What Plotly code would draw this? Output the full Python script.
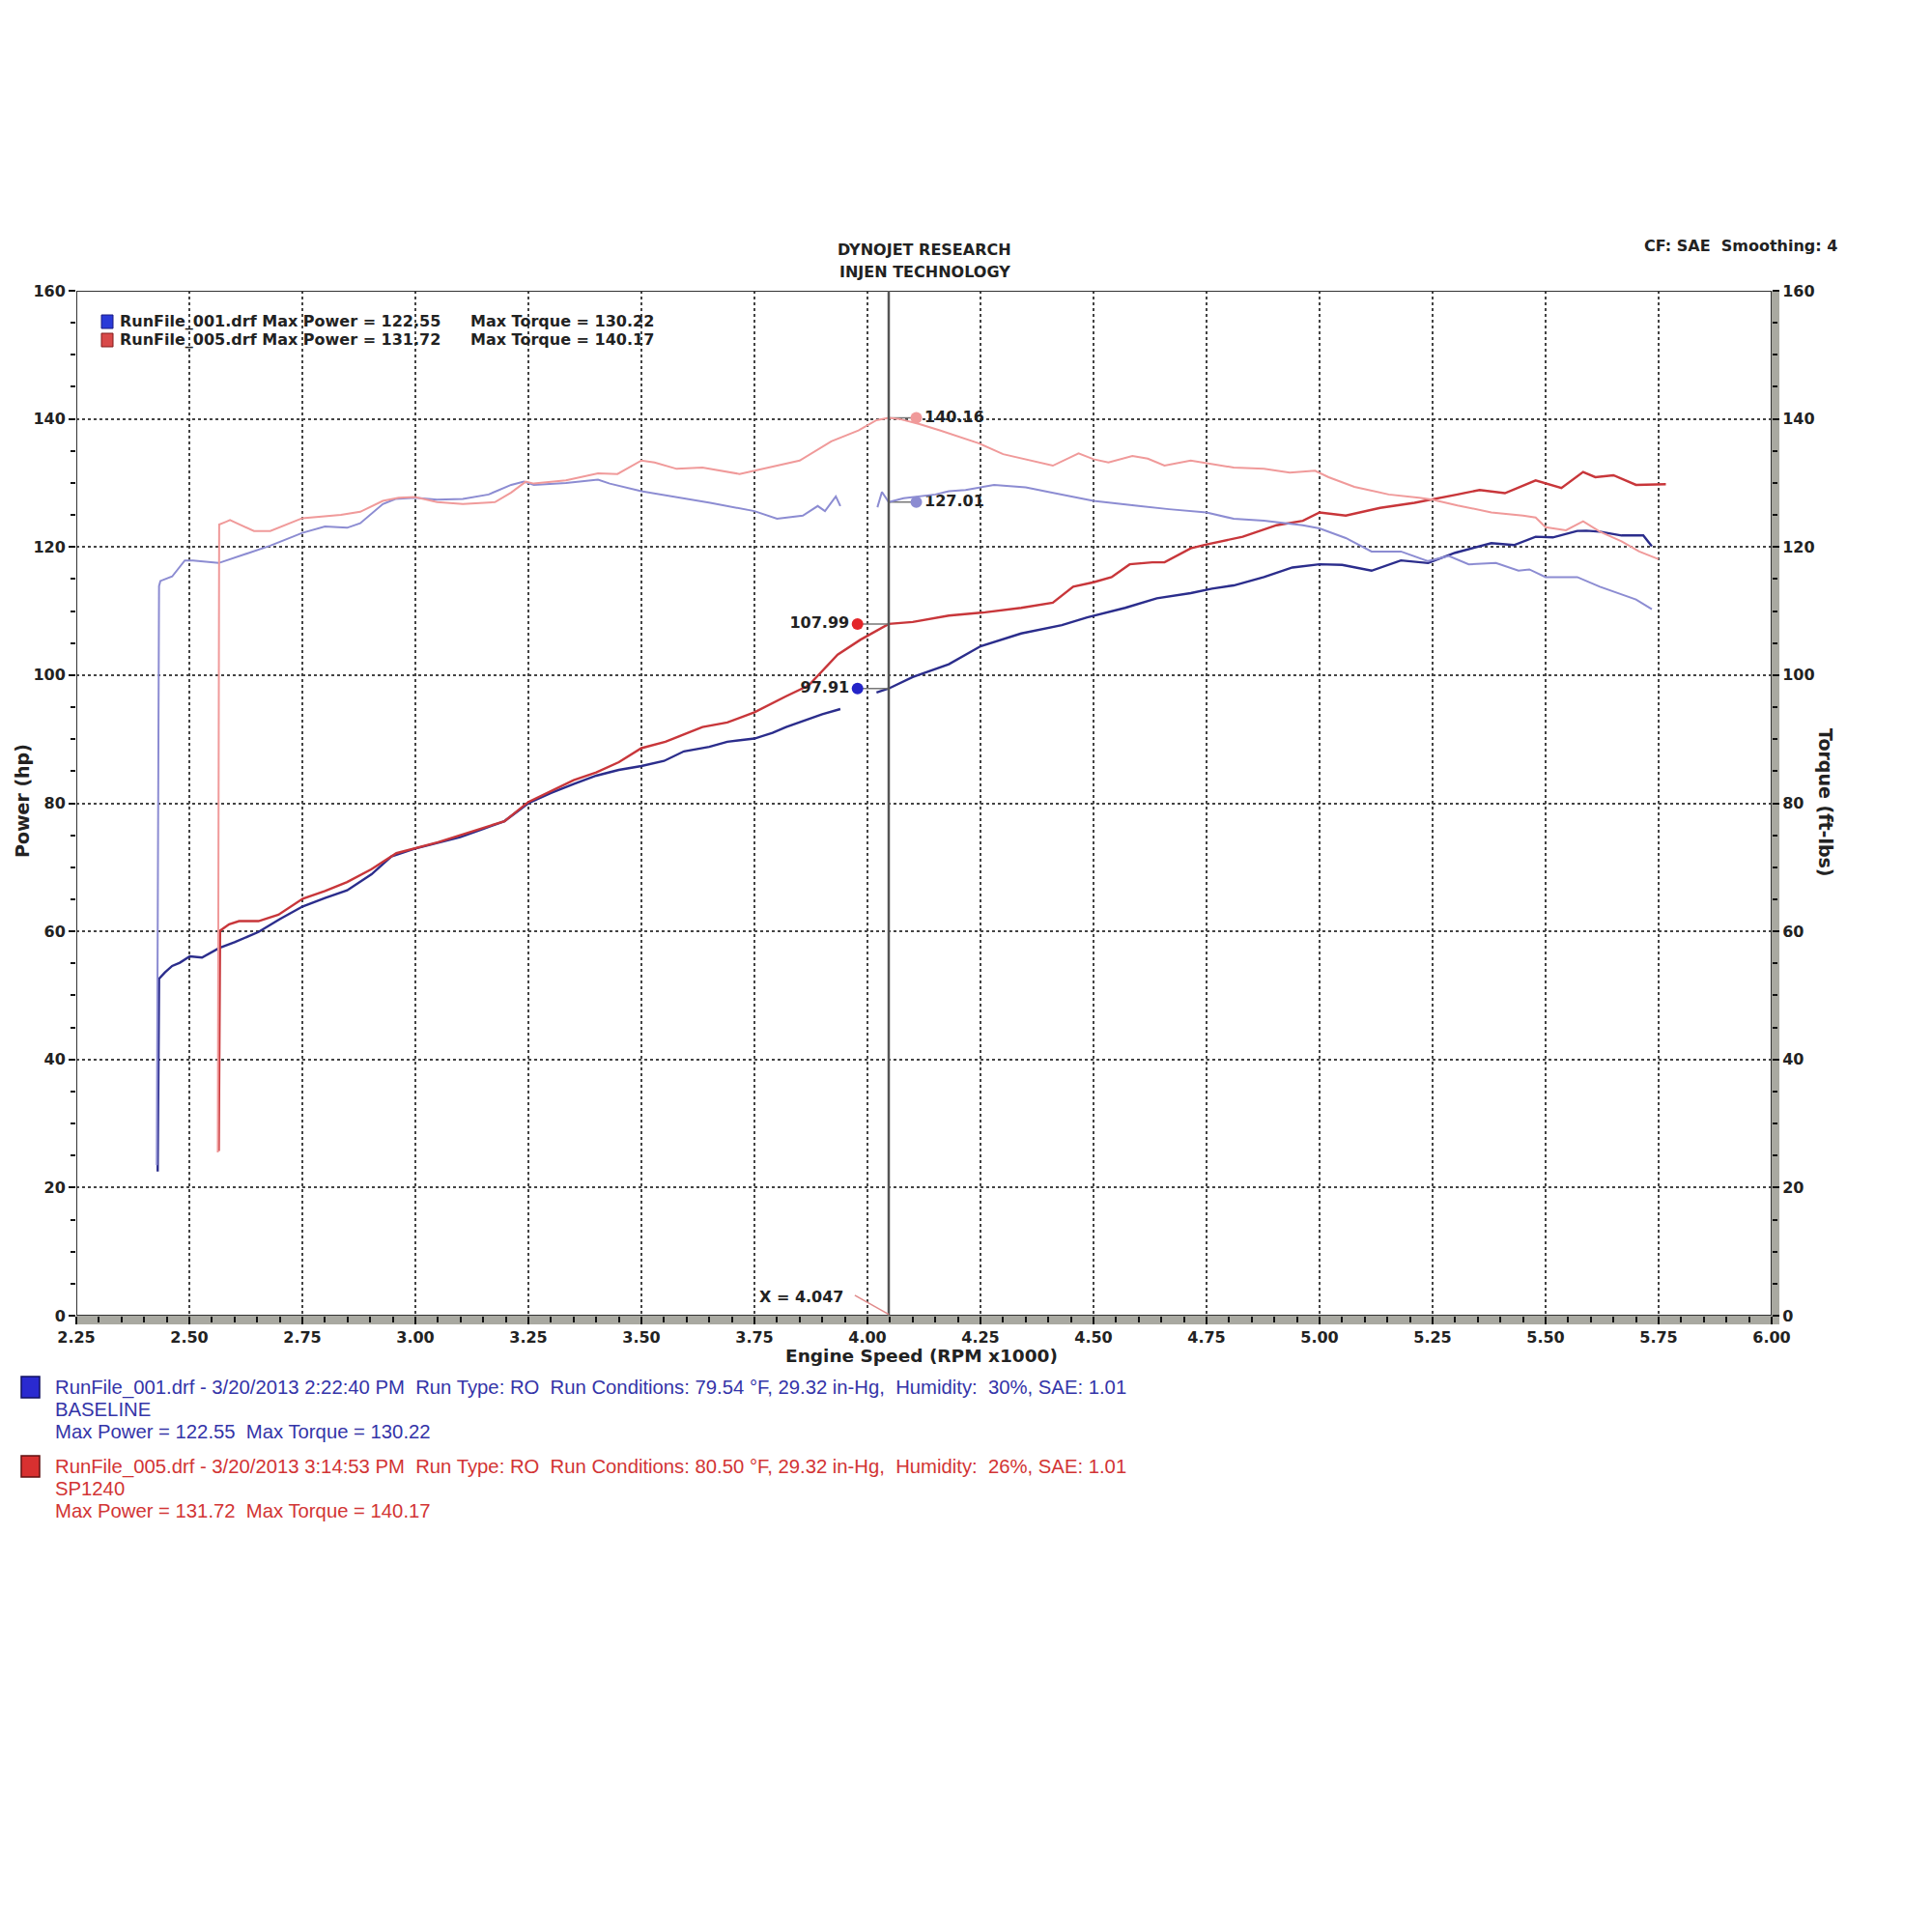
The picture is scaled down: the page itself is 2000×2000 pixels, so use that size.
import plotly.graph_objects as go

# ---- data (rpm x1000, hp / ft-lbs) ----
blue_power_rpm = [2.430, 2.433, 2.446, 2.462, 2.479, 2.501, 2.528, 2.545, 2.566, 2.600, 2.653, 2.700, 2.751,
                  2.800, 2.849, 2.903, 2.947, 2.998, 3.050, 3.099, 3.150, 3.197, 3.250, 3.300, 3.350, 3.400,
                  3.450, 3.500, 3.550, 3.594, 3.650, 3.690, 3.750, 3.790, 3.820, 3.870, 3.900, 3.940, None,
                  4.020, 4.047, 4.100, 4.180, 4.250, 4.340, 4.430, 4.486, 4.570, 4.640, 4.715, 4.762, 4.810,
                  4.877, 4.940, 5.000, 5.050, 5.115, 5.180, 5.240, 5.300, 5.380, 5.430, 5.478, 5.516, 5.570,
                  5.590, 5.620, 5.668, 5.716, 5.735]
blue_power_hp = [22.5, 52.6, 53.6, 54.6, 55.1, 56.1, 55.9, 56.6, 57.4, 58.3, 59.9, 61.9, 63.9,
                 65.2, 66.4, 68.9, 71.7, 72.9, 73.8, 74.7, 76.0, 77.2, 80.0, 81.6, 83.0, 84.3,
                 85.2, 85.8, 86.6, 88.1, 88.8, 89.6, 90.1, 91.0, 91.9, 93.1, 93.9, 94.7, None,
                 97.3, 97.91, 99.7, 101.7, 104.5, 106.5, 107.8, 109.0, 110.5, 112.0, 112.8, 113.5, 114.0,
                 115.3, 116.8, 117.3, 117.2, 116.3, 117.9, 117.5, 119.1, 120.6, 120.3, 121.6, 121.5, 122.5,
                 122.55, 122.4, 121.8, 121.8, 120.1]

red_power_rpm = [2.565, 2.568, 2.588, 2.610, 2.653, 2.697, 2.751, 2.800, 2.849, 2.903, 2.958, 2.998, 3.050,
                 3.099, 3.150, 3.197, 3.250, 3.300, 3.350, 3.400, 3.450, 3.500, 3.553, 3.600, 3.635, 3.690,
                 3.750, 3.820, 3.870, 3.934, 3.984, 4.047, 4.100, 4.180, 4.260, 4.340, 4.410, 4.455, 4.500,
                 4.540, 4.580, 4.630, 4.657, 4.715, 4.750, 4.830, 4.905, 4.963, 5.000, 5.058, 5.134, 5.210,
                 5.250, 5.305, 5.354, 5.410, 5.478, 5.535, 5.583, 5.610, 5.650, 5.700, 5.766]
red_power_hp = [25.7, 60.1, 61.1, 61.6, 61.6, 62.6, 65.1, 66.3, 67.7, 69.7, 72.2, 72.9, 73.9,
                75.0, 76.2, 77.2, 80.2, 81.9, 83.6, 84.8, 86.4, 88.6, 89.6, 90.9, 91.9, 92.6,
                94.2, 96.7, 98.4, 103.2, 105.5, 107.99, 108.3, 109.3, 109.8, 110.5, 111.3, 113.8, 114.5,
                115.3, 117.3, 117.6, 117.6, 119.8, 120.4, 121.6, 123.4, 124.1, 125.4, 124.9, 126.1, 126.9,
                127.4, 128.2, 128.9, 128.4, 130.4, 129.2, 131.72, 130.9, 131.2, 129.7, 129.8]

blue_torque_rpm = [2.428, 2.433, 2.436, 2.462, 2.490, 2.508, 2.565, 2.622, 2.679, 2.750, 2.800, 2.849, 2.878,
                   2.928, 2.956, 2.999, 3.048, 3.105, 3.162, 3.212, 3.240, 3.262, 3.333, 3.404, 3.430, 3.500,
                   3.570, 3.652, 3.750, 3.800, 3.857, 3.890, 3.906, 3.930, 3.940, None,
                   4.022, 4.032, 4.047, 4.080, 4.150, 4.180, 4.217, 4.280, 4.350, 4.430, 4.500, 4.600, 4.667,
                   4.750, 4.810, 4.877, 4.963, 5.000, 5.058, 5.115, 5.180, 5.240, 5.286, 5.330, 5.390, 5.440,
                   5.464, 5.500, 5.570, 5.620, 5.670, 5.700, 5.735]
blue_torque_ftlb = [23.5, 113.9, 114.7, 115.4, 117.9, 117.9, 117.5, 118.9, 120.2, 122.2, 123.2, 123.0, 123.7,
                    126.7, 127.5, 127.7, 127.4, 127.5, 128.2, 129.7, 130.22, 129.7, 130.0, 130.5, 129.9, 128.7,
                    127.9, 126.9, 125.6, 124.4, 124.9, 126.4, 125.6, 127.9, 126.4, None,
                    126.2, 128.6, 127.01, 127.6, 128.2, 128.7, 128.9, 129.7, 129.3, 128.2, 127.2, 126.4, 125.9,
                    125.4, 124.4, 124.1, 123.4, 122.9, 121.4, 119.3, 119.3, 117.8, 118.6, 117.3, 117.5, 116.3,
                    116.5, 115.3, 115.3, 113.8, 112.5, 111.8, 110.3]

red_torque_rpm = [2.563, 2.566, 2.580, 2.590, 2.605, 2.643, 2.679, 2.721, 2.750, 2.835, 2.878, 2.928, 2.963,
                  2.999, 3.048, 3.105, 3.176, 3.212, 3.244, 3.262, 3.333, 3.404, 3.447, 3.500, 3.529, 3.578,
                  3.635, 3.717, 3.750, 3.800, 3.850, 3.920, 3.980, 4.020, 4.047, 4.070, 4.115, 4.160, 4.246,
                  4.300, 4.410, 4.467, 4.500, 4.533, 4.586, 4.620, 4.657, 4.715, 4.750, 4.810, 4.877, 4.934,
                  4.990, 5.020, 5.077, 5.153, 5.220, 5.250, 5.305, 5.380, 5.450, 5.478, 5.500, 5.545, 5.583,
                  5.620, 5.668, 5.707, 5.750]
red_torque_ftlb = [25.5, 123.5, 123.9, 124.2, 123.7, 122.5, 122.5, 123.7, 124.5, 125.0, 125.5, 127.2, 127.7,
                   127.8, 127.0, 126.7, 127.0, 128.5, 130.2, 129.9, 130.4, 131.5, 131.4, 133.5, 133.2, 132.2,
                   132.4, 131.4, 131.9, 132.7, 133.5, 136.5, 138.2, 139.8, 140.16, 140.0, 139.2, 138.2, 136.2,
                   134.5, 132.7, 134.6, 133.7, 133.2, 134.2, 133.8, 132.7, 133.5, 133.1, 132.4, 132.2, 131.6,
                   131.9, 130.9, 129.4, 128.2, 127.7, 127.4, 126.5, 125.4, 124.9, 124.6, 123.1, 122.6, 124.0,
                   122.4, 120.9, 119.3, 118.1]

cursor_rpm = 4.047
readout_values = [140.16, 127.01, 107.99, 97.91]
readout_rpm = [4.108, 4.108, 3.978, 3.978]

x_ticks = [2.25, 2.50, 2.75, 3.00, 3.25, 3.50, 3.75, 4.00, 4.25, 4.50, 4.75, 5.00, 5.25, 5.50, 5.75, 6.00]
y_ticks = [0, 20, 40, 60, 80, 100, 120, 140, 160]

run_files = ["RunFile_001.drf", "RunFile_005.drf"]
run_dates = ["3/20/2013 2:22:40 PM", "3/20/2013 3:14:53 PM"]
run_temps = ["79.54", "80.50"]
run_humidity = ["30%", "26%"]
run_notes = ["BASELINE", "SP1240"]
max_power = ["122.55", "131.72"]
max_torque = ["130.22", "140.17"]

BLUE_P = "#2b2d8c"
RED_P = "#c8363a"
BLUE_T = "#8c8cd2"
RED_T = "#f09a9a"
BOLD = "DejaVu Sans"
OFF = 8  # page body margin


def px(x):
    return (x - OFF) / 2000


def py(y):
    return 1 - (y - OFF) / 2000


fig = go.Figure()
fig.add_trace(go.Scatter(x=blue_torque_rpm, y=blue_torque_ftlb, mode="lines", yaxis="y2",
                         line=dict(color=BLUE_T, width=2), connectgaps=False))
fig.add_trace(go.Scatter(x=red_torque_rpm, y=red_torque_ftlb, mode="lines", yaxis="y2",
                         line=dict(color=RED_T, width=2)))
fig.add_trace(go.Scatter(x=blue_power_rpm, y=blue_power_hp, mode="lines",
                         line=dict(color=BLUE_P, width=2.4), connectgaps=False))
fig.add_trace(go.Scatter(x=red_power_rpm, y=red_power_hp, mode="lines",
                         line=dict(color=RED_P, width=2.4)))

# cursor readouts
marker_cols = [RED_T, BLUE_T, "#e3262a", "#2424c8"]
positions = ["middle right", "middle right", "middle left", "middle left"]
for v, r, c, p in zip(readout_values, readout_rpm, marker_cols, positions):
    fig.add_trace(go.Scatter(x=[cursor_rpm, r], y=[v, v], mode="lines",
                             line=dict(color="#777", width=1.5)))
    fig.add_trace(go.Scatter(x=[r], y=[v], mode="markers+text", text=[f"{v:.2f}"],
                             textposition=p, marker=dict(color=c, size=12),
                             textfont=dict(family=BOLD, size=16, color="#222", weight="bold")))

tickfont = dict(family=BOLD, size=16, color="#222", weight="bold")
fig.update_layout(
    width=2000, height=2000, margin=dict(l=0, r=0, t=0, b=0),
    paper_bgcolor="white", plot_bgcolor="white", showlegend=False,
    xaxis=dict(domain=[px(79), px(1834)], range=[2.25, 6.0], tickmode="array", tickvals=x_ticks,
               ticktext=[f"{v:.2f}" for v in x_ticks], tickfont=tickfont, automargin=False,
               showgrid=True, gridcolor="#444", griddash="dot", gridwidth=1.5,
               ticks="outside", ticklen=8, tickcolor="#111", tickwidth=1.5, zeroline=False,
               minor=dict(tickmode="linear", tick0=2.25, dtick=0.05, ticks="outside", ticklen=6,
                          tickcolor="#111", showgrid=False)),
    yaxis=dict(domain=[py(1362), py(301)], range=[0, 160], tickvals=y_ticks, tickfont=tickfont,
               automargin=False,
               showgrid=True, gridcolor="#444", griddash="dot", gridwidth=1.5,
               ticks="outside", ticklen=7, tickcolor="#111", tickwidth=1.5, zeroline=False,
               minor=dict(dtick=5, ticks="outside", ticklen=5, tickcolor="#111", showgrid=False)),
    yaxis2=dict(overlaying="y", side="right", range=[0, 160], tickvals=y_ticks, tickfont=tickfont,
                automargin=False,
                showgrid=False, ticks="outside", ticklen=7, tickcolor="#111", tickwidth=1.5,
                zeroline=False,
                minor=dict(dtick=5, ticks="outside", ticklen=5, tickcolor="#111", showgrid=False)),
)

shapes = [
    # frame and shaded axis bands
    dict(type="rect", xref="paper", yref="paper", x0=px(79), x1=px(1842), y0=py(1371), y1=py(1362),
         fillcolor="#a9a9a1", line=dict(width=0), layer="below"),
    dict(type="rect", xref="paper", yref="paper", x0=px(1834), x1=px(1842), y0=py(1371), y1=py(301),
         fillcolor="#a9a9a1", line=dict(width=0), layer="below"),
    dict(type="rect", xref="x", yref="y", x0=2.25, x1=6.0, y0=0, y1=160,
         line=dict(color="#333", width=2)),
    dict(type="line", xref="x", yref="y", x0=cursor_rpm, x1=cursor_rpm, y0=0, y1=160,
         line=dict(color="#555", width=2.5)),
    dict(type="line", xref="x", yref="y", x0=3.972, x1=cursor_rpm, y0=3.2, y1=0.2,
         line=dict(color="#e08a8a", width=1.5)),
    # legend swatches
    dict(type="rect", xref="paper", yref="paper", x0=px(105), x1=px(117), y0=py(340), y1=py(326),
         fillcolor="#2a3ad8", line=dict(color="#1a1a80", width=1)),
    dict(type="rect", xref="paper", yref="paper", x0=px(105), x1=px(117), y0=py(359), y1=py(345),
         fillcolor="#d84a4a", line=dict(color="#801a1a", width=1)),
    dict(type="rect", xref="paper", yref="paper", x0=px(22), x1=px(41), y0=py(1447), y1=py(1425),
         fillcolor="#2a2ad0", line=dict(color="#101060", width=1.5)),
    dict(type="rect", xref="paper", yref="paper", x0=px(22), x1=px(41), y0=py(1529), y1=py(1507),
         fillcolor="#d83030", line=dict(color="#601010", width=1.5)),
]
fig.update_layout(shapes=shapes)

NB = "\u00a0"
ann = []


def text(x, y, t, size=15, color="#222", xanchor="center", bold=True, family=BOLD, angle=0):
    ann.append(dict(x=px(x), y=py(y), xref="paper", yref="paper", text=t, showarrow=False,
                    xanchor=xanchor, yanchor="middle", textangle=angle,
                    font=dict(family=family, size=size, color=color,
                              weight="bold" if bold else "normal")))


text(957, 258, "DYNOJET RESEARCH", size=16)
text(957, 281, "INJEN TECHNOLOGY", size=16)
text(1802, 254, "CF: SAE" + NB * 2 + "Smoothing: 4", size=16)
text(23, 829, "Power (hp)", size=19, angle=-90)
text(1890, 831, "Torque (ft-lbs)", size=19, angle=90)
text(954, 1403, "Engine Speed (RPM x1000)", size=18.5)

for i, yy in enumerate([333, 352]):
    text(122, yy, f"{run_files[i]} Max Power = {max_power[i]}", size=16, xanchor="left")
    text(485, yy, f"Max Torque = {max_torque[i]}", size=16, xanchor="left")

ann.append(dict(x=3.855, y=2.9, xref="x", yref="y", text="X = 4.047", showarrow=False,
                font=dict(family=BOLD, size=16, color="#222", weight="bold")))

cols = ["#3434a8", "#d23434"]
for i, y0 in enumerate([1436, 1518]):
    line1 = (f"{run_files[i]} - {run_dates[i]}{NB*2}Run Type: RO{NB*2}Run Conditions: {run_temps[i]} °F, "
             f"29.32 in-Hg,{NB*2}Humidity:{NB*2}{run_humidity[i]}, SAE: 1.01")
    text(55, y0, line1, size=20.3, color=cols[i], xanchor="left", bold=False, family="Liberation Sans")
    text(55, y0 + 23, run_notes[i], size=20.3, color=cols[i], xanchor="left", bold=False,
         family="Liberation Sans")
    text(55, y0 + 46, f"Max Power = {max_power[i]}{NB*2}Max Torque = {max_torque[i]}", size=20.3,
         color=cols[i], xanchor="left", bold=False, family="Liberation Sans")

fig.update_layout(annotations=ann)
fig.write_html("out.html")
